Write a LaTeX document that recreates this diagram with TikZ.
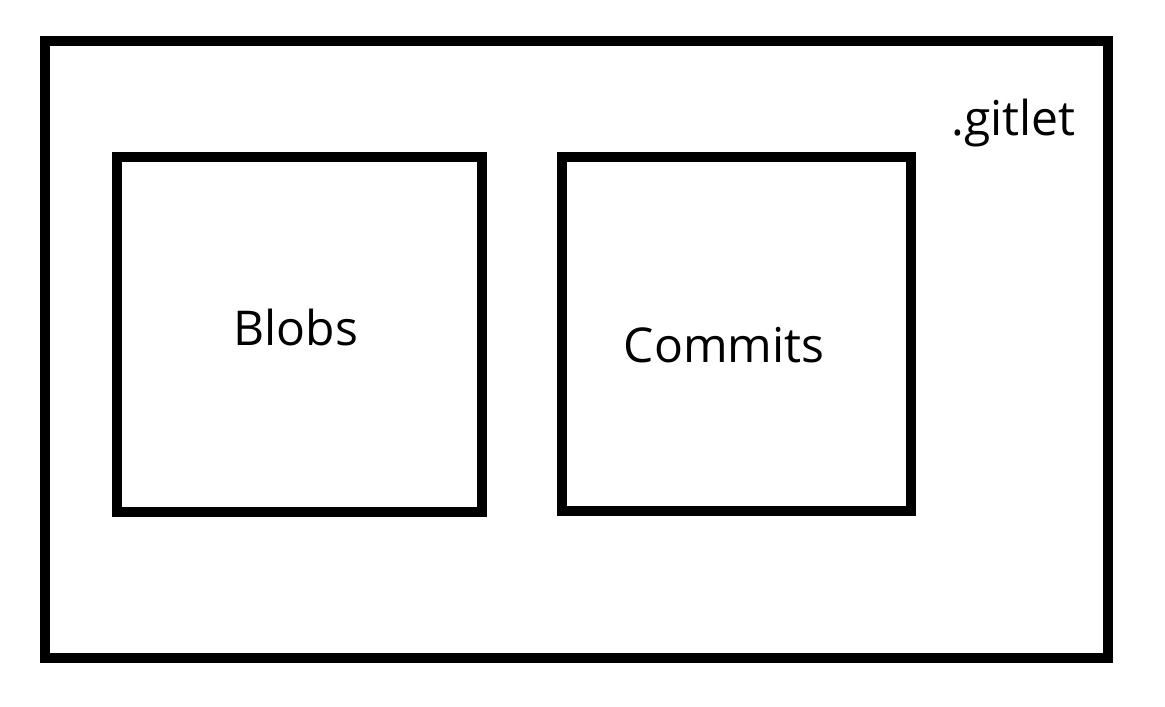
\documentclass[tikz,border=0pt]{standalone}
\usepackage{fontspec}
\setmainfont{Open Sans}
\usetikzlibrary{positioning}
\tikzset{font=\fontsize{36}{42}\selectfont}

\begin{document}
\begin{tikzpicture}[x=0.75pt, y=-0.75pt]
	\useasboundingbox (0, 0) rectangle (1165, 707);
	\begin{scope}
		\tikzstyle{every node}=[inner sep=0pt, outer sep=0pt]
		\tikzstyle{folder}=[draw, line width=7.5pt, rectangle]

		\node[folder, minimum width=797.25pt, minimum height=462.75pt] (gitlet) at (576.5, 349.5) {};
		\node[folder, minimum width=273.75pt, minimum height=266.25pt] (blobs) at (299.5, 334.5) {};
		\node[folder, minimum width=261.75pt, minimum height=265.5pt] (commits) at (736.5, 334) {};

		\node[anchor=base] (gitletlabel) at (1013.5, 135) {.gitlet};
		\node[anchor=base] (blobslabel) at (296, 345) {Blobs};
		\node[anchor=base] (commitslabel) at (724, 362) {Commits};
	\end{scope}
\end{tikzpicture}
\end{document}
